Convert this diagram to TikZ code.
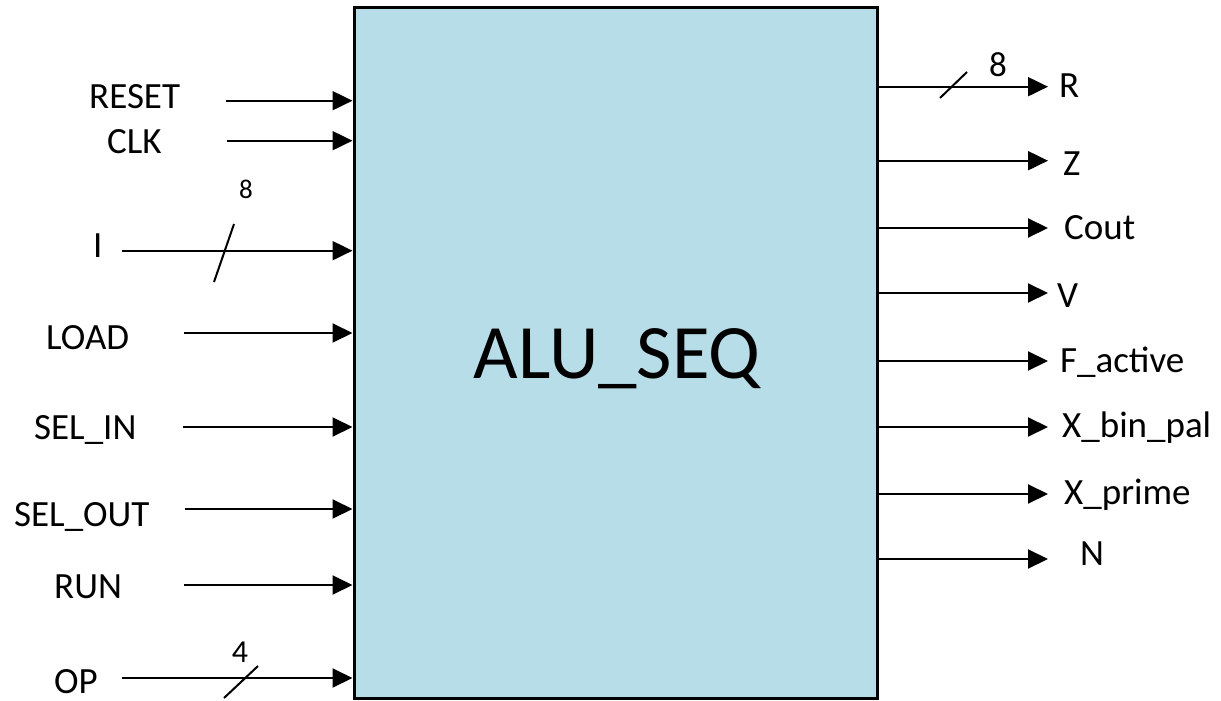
\documentclass[tikz,border=0pt]{standalone}
\usepackage{fontspec}
\setmainfont{Carlito}
\usetikzlibrary{arrows.meta}
\definecolor{blockfill}{HTML}{B7DDE8}
\begin{document}
\begin{tikzpicture}[x=1pt,y=-1pt,
  sig/.style={line width=2pt,-{Triangle[length=20pt,width=19pt]}},
  bus/.style={line width=2pt},
  lbl/.style={inner sep=0pt,font=\fontsize{37}{40}\selectfont},
  inlbl/.style={lbl,anchor=base west},
  outlbl/.style={lbl,anchor=base west},
  width/.style={inner sep=0pt,anchor=base}]
\useasboundingbox (0,0) rectangle (1221,701);

% main block
\node[draw,line width=3pt,fill=blockfill,minimum width=523pt,minimum height=690pt,inner sep=0pt]
  (alu) at (615.5,353) {};
\node[inner sep=0pt,anchor=base,font=\fontsize{77}{80}\selectfont] (title) at (617,378) {ALU\_SEQ};

% inputs
\coordinate (reset) at (226,100.7);
\coordinate (clk)   at (227,140.7);
\coordinate (ibus)  at (122,250.7);
\coordinate (load)  at (184,333);
\coordinate (selin) at (183,427);
\coordinate (selout) at (185,509);
\coordinate (run)   at (184,585);
\coordinate (op)    at (122,678);

\foreach \c in {reset,clk,ibus,load,selin,selout,run,op}
  \draw[sig] (\c) -- (\c -| alu.west);

\node[inlbl] (lreset) at (89,108) {RESET};
\node[inlbl] (lclk) at (107,153) {CLK};
\node[inlbl] (li) at (93,257) {I};
\node[inlbl] (lload) at (46,349) {LOAD};
\node[inlbl] (lselin) at (34,439) {SEL\_IN};
\node[inlbl] (lselout) at (14,526) {SEL\_OUT};
\node[inlbl] (lrun) at (54,598) {RUN};
\node[inlbl] (lop) at (54,693) {OP};

% bus markers on inputs
\draw[bus] (214,282) -- (234,224);
\node[width,font=\fontsize{27}{30}\selectfont] (wi) at (246,198) {8};
\draw[bus] (224,698) -- (258,666);
\node[width,font=\fontsize{32}{34}\selectfont] (wop) at (240,662) {4};

% outputs
\coordinate (r)    at (1048,86.7);
\coordinate (z)    at (1048,160.7);
\coordinate (cout) at (1048,228);
\coordinate (v)    at (1048,293);
\coordinate (fact) at (1048,361);
\coordinate (xbin) at (1048,427);
\coordinate (xpr)  at (1048,494);
\coordinate (n)    at (1048,559);

\foreach \c in {r,z,cout,v,fact,xbin,xpr,n}
  \draw[sig] (\c -| alu.east) -- (\c);

\node[outlbl] (lr) at (1059,98) {R};
\node[outlbl] (lz) at (1063,175) {Z};
\node[outlbl] (lcout) at (1064,239) {Cout};
\node[outlbl] (lv) at (1057,307) {V};
\node[outlbl] (lfact) at (1060,372) {F\_active};
\node[outlbl] (lxbin) at (1062,437) {X\_bin\_pal};
\node[outlbl] (lxpr) at (1064,504) {X\_prime};
\node[outlbl] (ln) at (1080,565) {N};

% bus marker on R
\draw[bus] (940,98) -- (967,72);
\node[width,font=\fontsize{35}{38}\selectfont] (wr) at (998,77) {8};
\end{tikzpicture}
\end{document}
